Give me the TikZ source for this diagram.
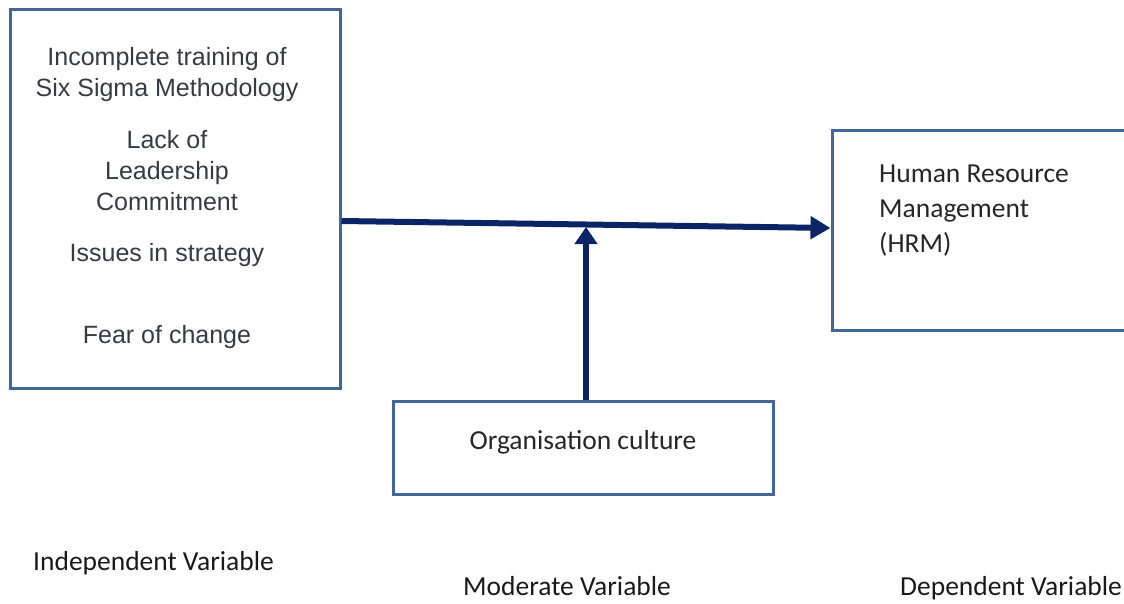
\documentclass[tikz,border=0pt]{standalone}
\usepackage{fontspec}
\setmainfont{Carlito}
\newfontfamily\arialfont{Liberation Sans}
\usetikzlibrary{arrows.meta}
\definecolor{boxblue}{HTML}{41679A}
\definecolor{arrownavy}{HTML}{0B2466}
\definecolor{textgray}{HTML}{363B41}
\begin{document}
\begin{tikzpicture}[x=1pt, y=-1pt,
  box/.style = {draw=boxblue, line width=3pt, inner sep=0pt},
  flow/.style = {draw=arrownavy, line width=6pt,
    -{Triangle[length=20pt,width=22pt]}},
  label/.style = {font=\fontsize{27.5}{35}\selectfont, text=black!85,
    inner sep=0pt, align=left},
  caption/.style = {font=\fontsize{27.5}{32}\selectfont, text=black!90,
    inner sep=0pt, anchor=base west}]
  \clip (0,0) rectangle (1124,604);
  % boxes
  \node[box, minimum width=330pt, minimum height=378pt] (iv) at (175,199) {};
  \node[align=center, inner sep=0pt, text=textgray,
    font=\arialfont\fontsize{25}{31}\selectfont] (ivtext) at (167,198)
    {Incomplete training of\\Six Sigma Methodology\\[21pt]
     Lack of\\Leadership\\Commitment\\[20pt]
     Issues in strategy\\[51pt]
     Fear of change};
  \node[box, minimum width=310pt, minimum height=199pt] (dv) at (987,230.5) {};
  \node[label, anchor=base west] (dvtext) at (879,252)
    {Human Resource\\Management\\(HRM)};
  \node[box, minimum width=380pt, minimum height=93pt, label,
    text height=10pt, text depth=7pt] (mv) at (583,447.5) {Organisation culture};
  % connectors
  \draw[flow] (iv.east |- 0,221) -- (dv.west |- 0,228);
  \draw[flow, -{Triangle[length=17pt,width=22pt]}]
    ([xshift=3pt]mv.north) -- ([xshift=3pt]mv.north |- 0,227);
  % captions
  \node[caption] (ivcap) at (33,570) {Independent Variable};
  \node[caption] (mvcap) at (463,595) {Moderate Variable};
  \node[caption] (dvcap) at (900,595) {Dependent Variable};
\end{tikzpicture}
\end{document}
